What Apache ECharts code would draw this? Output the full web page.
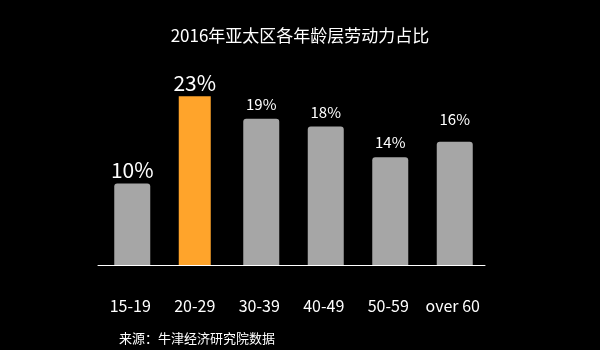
<!DOCTYPE html>
<html><head><meta charset="utf-8">
<script src="https://cdn.jsdelivr.net/npm/echarts@6/dist/echarts.min.js"></script>
<style>html,body{margin:0;padding:0;background:#000}#c{width:600px;height:350px}</style>
</head><body><div id="c"></div>
<script>
var titleText = '2016年亚太区各年龄层劳动力占比';
var sourceText = '来源：牛津经济研究院数据';
var categories = ['15-19', '20-29', '30-39', '40-49', '50-59', 'over 60'];
var barValues = [10.6, 21.9, 19, 18, 14, 16];
var valueLabels = ['10%', '23%', '19%', '18%', '14%', '16%'];
var highlightIndex = 1;

var FONT = '"Noto Sans CJK SC", "Noto Sans", sans-serif';
var bigLabel = {0: true, 1: true};
var labelDist = {0: 3, 1: 3, 2: 7, 3: 7, 4: 7, 5: 15};

function mk(isHi) {
  return barValues.map(function (v, i) {
    if ((i === highlightIndex) !== isHi) return null;
    return {
      value: v,
      label: {
        show: true, position: 'top', distance: labelDist[i],
        formatter: valueLabels[i], color: '#fff', fontFamily: FONT,
        fontSize: bigLabel[i] ? 21 : 15
      }
    };
  });
}

var chart = echarts.init(document.getElementById('c'));
chart.setOption({
  backgroundColor: '#000',
  animation: false,
  title: [
    {text: titleText, left: 'center', top: 22, textStyle: {color: '#fff', fontSize: 17, fontWeight: 'normal', fontFamily: FONT}},
    {text: sourceText, left: 114, top: 327, textStyle: {color: '#fff', fontSize: 13, fontWeight: 'normal', fontFamily: FONT}}
  ],
  grid: {left: 98, right: 115, top: 34, bottom: 85},
  xAxis: {
    type: 'category', data: categories,
    axisLine: {show: true, lineStyle: {color: '#fff', width: 1}},
    axisTick: {show: false},
    axisLabel: {color: '#fff', fontSize: 16, fontFamily: FONT, margin: 33, interval: 0}
  },
  yAxis: {type: 'value', min: 0, max: 30, show: false, splitLine: {show: false}},
  series: [
    {type: 'bar', data: mk(false), barWidth: 36, barGap: '-100%', itemStyle: {color: '#a6a6a6', borderRadius: [3, 3, 0, 0]}},
    {type: 'bar', data: mk(true), barWidth: 32, barGap: '-100%', itemStyle: {color: '#ffa42b'}}
  ]
});
</script></body></html>
